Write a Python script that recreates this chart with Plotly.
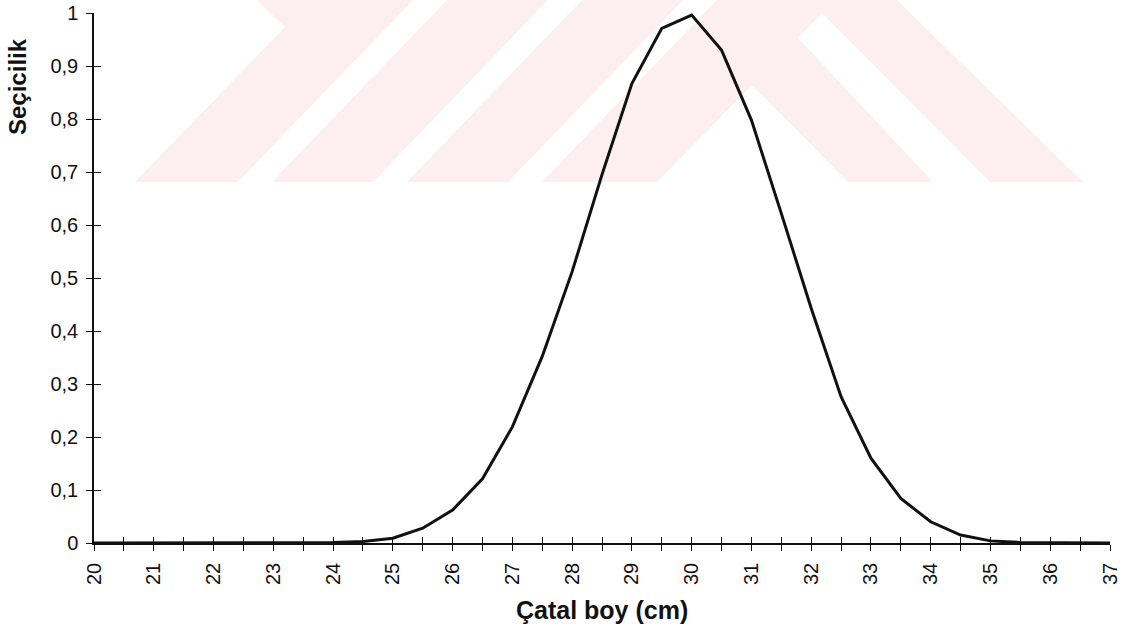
import plotly.graph_objects as go

# Selectivity curve: fork length (cm) vs. selectivity
fork_length = [20, 20.5, 21, 21.5, 22, 22.5, 23, 23.5, 24, 24.5, 25, 25.5, 26, 26.5,
               27, 27.5, 28, 28.5, 29, 29.5, 30, 30.5, 31, 31.5, 32, 32.5, 33, 33.5,
               34, 34.5, 35, 35.5, 36, 36.5, 37]
selectivity = [0.0, 0.0, 0.0, 0.0, 0.0, 0.0, 0.0, 0.0005, 0.001, 0.003, 0.009, 0.028,
               0.062, 0.121, 0.219, 0.352, 0.512, 0.695, 0.867, 0.971, 0.996, 0.930,
               0.798, 0.622, 0.443, 0.276, 0.160, 0.084, 0.040, 0.015, 0.004, 0.001,
               0.0003, 0.0, 0.0]

x_tick_vals = [20 + 0.5 * i for i in range(35)]
x_tick_text = [str(int(v)) if v == int(v) else "" for v in x_tick_vals]
y_tick_vals = [0, 0.1, 0.2, 0.3, 0.4, 0.5, 0.6, 0.7, 0.8, 0.9, 1]
y_tick_text = ["0", "0,1", "0,2", "0,3", "0,4", "0,5", "0,6", "0,7", "0,8", "0,9", "1"]

W, H = 1123, 633
ML, MR, MT, MB = 94, 13, 13, 90
PW, PH = W - ML - MR, H - MT - MB

FONT = "Liberation Sans, Arial, sans-serif"
INK = "#111111"
WATERMARK = "#fdeef1"


def to_paper(px, py):
    return (px - ML) / PW, (H - MB - py) / PH


def poly_path(points):
    pts = [to_paper(px, py) for px, py in points]
    return "M " + " L ".join(f"{x:.5f},{y:.5f}" for x, y in pts) + " Z"


# background chevron watermark (pixel outlines)
watermark_polys = [
    [(135, 182), (238, 182), (413, 0), (257, 0), (285, 27)],
    [(272, 182), (373, 182), (548, 0), (447, 0)],
    [(407, 182), (508, 182), (683, 0), (582, 0)],
    [(542, 182), (717, 0), (897, 0), (1083, 182), (990, 182), (822, 13),
     (798, 38), (933, 182), (848, 182), (752, 85), (657, 182)],
]

shapes = [
    dict(type="path", path=poly_path(p), xref="paper", yref="paper",
         fillcolor=WATERMARK, line=dict(width=0), layer="below")
    for p in watermark_polys
]

fig = go.Figure()
fig.add_trace(go.Scatter(
    x=fork_length, y=selectivity, mode="lines",
    line=dict(color=INK, width=3), cliponaxis=False, showlegend=False,
))
# empty trace so the overlay axes (inner halves of the ticks) are drawn
fig.add_trace(go.Scatter(x=[], y=[], xaxis="x2", yaxis="y2", showlegend=False))

fig.update_layout(
    width=W, height=H,
    margin=dict(l=ML, r=MR, t=MT, b=MB, autoexpand=False),
    paper_bgcolor="white", plot_bgcolor="rgba(0,0,0,0)",
    font=dict(family=FONT, color=INK, size=20),
    shapes=shapes,
    xaxis=dict(range=[20, 37], tickmode="array", tickvals=x_tick_vals, ticktext=x_tick_text,
               tickangle=-90, ticks="outside", ticklen=6, tickwidth=1.3, tickcolor=INK,
               showline=True, linecolor=INK, linewidth=1.5, showgrid=False, zeroline=False,
               tickfont=dict(size=20), ticklabelstandoff=4, automargin=False),
    yaxis=dict(range=[0, 1], tickmode="array", tickvals=y_tick_vals, ticktext=y_tick_text,
               ticks="outside", ticklen=6, tickwidth=1.3, tickcolor=INK,
               showline=True, linecolor=INK, linewidth=1.5, showgrid=False, zeroline=False,
               tickfont=dict(size=20), ticklabelstandoff=4, automargin=False),
    xaxis2=dict(overlaying="x", anchor="y2", side="bottom", range=[20, 37],
                tickmode="array", tickvals=x_tick_vals, ticks="inside", ticklen=6,
                tickwidth=1.3, tickcolor=INK, showticklabels=False, showline=False,
                showgrid=False, zeroline=False, automargin=False),
    yaxis2=dict(overlaying="y", anchor="x2", side="left", range=[0, 1],
                tickmode="array", tickvals=y_tick_vals, ticks="inside", ticklen=7,
                tickwidth=1.3, tickcolor=INK, showticklabels=False, showline=False,
                showgrid=False, zeroline=False, automargin=False),
    annotations=[
        dict(text="<b>Çatal boy (cm)</b>", xref="paper", yref="paper", x=0.5, y=0,
             yshift=-(610 - (H - MB)), xanchor="center", yanchor="middle",
             showarrow=False, font=dict(size=25, family=FONT, color=INK)),
        dict(text="<b>Seçicilik</b>", xref="paper", yref="paper",
             x=(18 - ML) / PW, y=(H - MB - 87) / PH, xanchor="center", yanchor="middle",
             textangle=-90, showarrow=False, font=dict(size=24, family=FONT, color=INK)),
    ],
)

fig.write_html("out.html")
